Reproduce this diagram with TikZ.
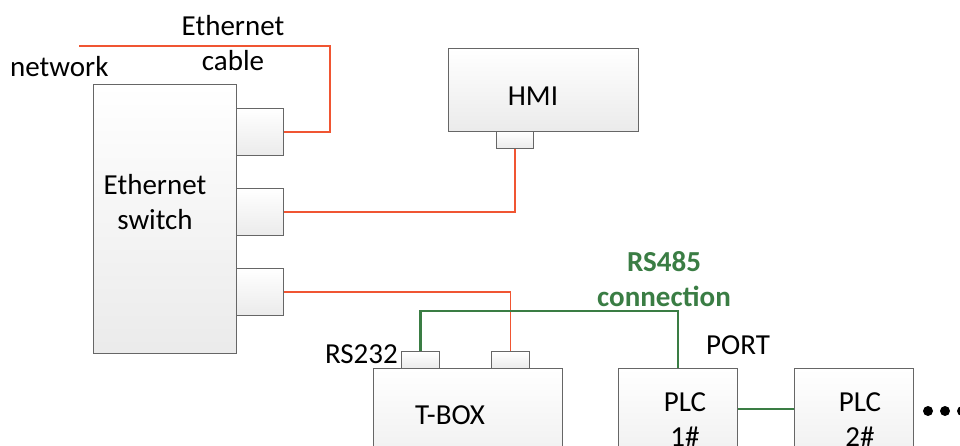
\documentclass[tikz,border=0pt]{standalone}
\usepackage{fontspec}
\setmainfont{Carlito}
\begin{document}
\begin{tikzpicture}[x=1pt,y=-1pt,
  box/.style={draw=black!60, line width=1.2pt, top color=white, bottom color=black!8, rectangle, inner sep=0pt, anchor=north west},
  lbl/.style={font=\fontsize{29}{35}\selectfont, align=center, inner sep=0pt},
  eth/.style={draw=red!70!orange!90!white, line width=1.3pt},
  rs/.style={draw=rsgreen, line width=2.5pt},
]
\definecolor{rsgreen}{RGB}{58,125,68}
\definecolor{ethred}{RGB}{240,85,50}
\tikzset{eth/.style={draw=ethred, line width=1.3pt}}
\clip (0,0) rectangle (960,446);
\fill[white] (0,0) rectangle (960,446);
% Ethernet switch
\node[box, minimum width=143pt, minimum height=269pt] (sw) at (93,84) {};
\node[box, minimum width=47pt, minimum height=47pt] (p1) at (236,108) {};
\node[box, minimum width=47pt, minimum height=47pt] (p2) at (236,188) {};
\node[box, minimum width=47pt, minimum height=47pt] (p3) at (236,268) {};
\node[lbl] (swt) at (155,202) {Ethernet\\switch};
% HMI
\node[box, minimum width=190pt, minimum height=83pt] (hmi) at (448,48) {};
\node[lbl] (hmit) at (533,96) {HMI};
\node[box, minimum width=37pt, minimum height=17pt] (hp) at (496,131) {};
% T-BOX
\node[box, minimum width=189pt, minimum height=120pt] (tb) at (373,368) {};
\node[lbl] (tbt) at (450,415) {T-BOX};
\node[box, minimum width=38pt, minimum height=17pt] (tp1) at (401,351) {};
\node[box, minimum width=38pt, minimum height=17pt] (tp2) at (491,351) {};
% PLCs
\node[box, minimum width=119pt, minimum height=120pt] (plc1) at (618,368) {};
\node[box, minimum width=119pt, minimum height=120pt] (plc2) at (794,368) {};
\node[lbl] (plc1t) at (685,420) {PLC\\1\#};
\node[lbl] (plc2t) at (860,420) {PLC\\2\#};
% labels
\node[lbl, anchor=west] (net) at (10,67) {network};
\node[lbl] (cab) at (233,43) {Ethernet\\cable};
\node[lbl, anchor=east] (rs232) at (398,354) {RS232};
\node[lbl, anchor=west] (port) at (706,345) {PORT};
\node[lbl, font=\fontsize{29}{35}\selectfont\bfseries, text=rsgreen] (rs485) at (664,279) {RS485\\connection};
% dots
\fill (928,411) circle (5) (945,411) circle (5) (962,411) circle (5);
% ethernet cables
\coordinate (netend) at (79,46);
\draw[eth] (netend) -- (330,46) |- (p1.east);
\draw[eth] (p2.east) -| (hp.south);
\draw[eth] (p3.east) -| (tp2.north);
% RS485
\draw[rs] (tp1.north) |- (678,311) -- (678,368);
\draw[rs] (plc1.east |- 0,409) -- (plc2.west |- 0,409);
\end{tikzpicture}
\end{document}
